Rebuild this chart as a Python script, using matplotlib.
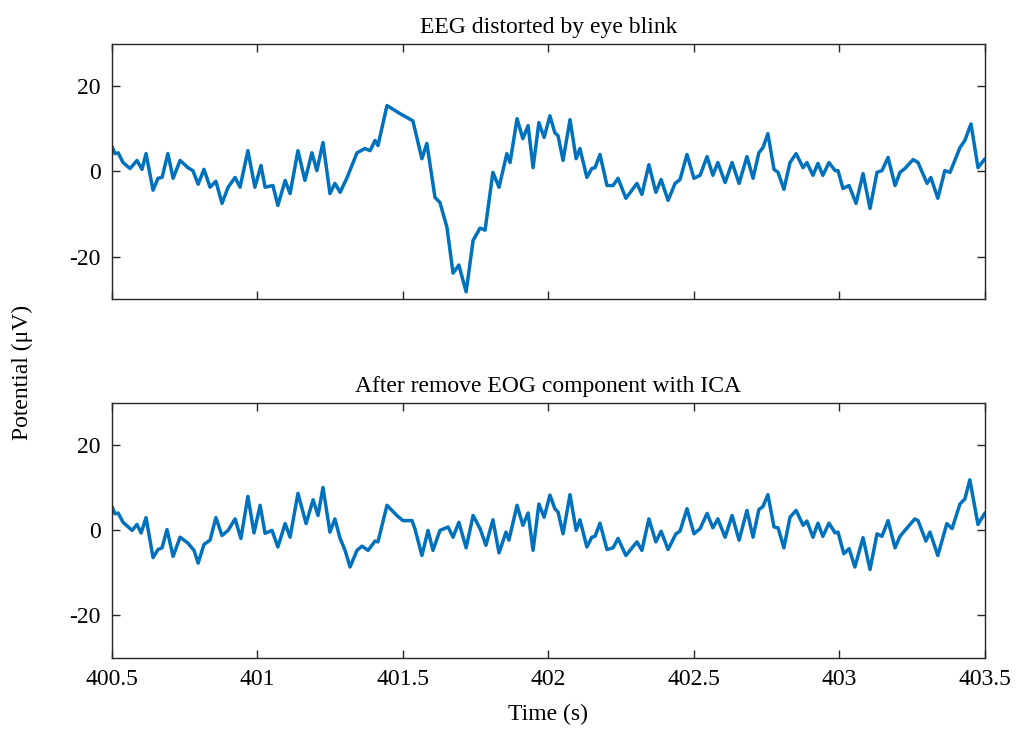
import matplotlib.pyplot as plt

# EEG channel before and after ICA removal of the blink component
t_raw = [400.500, 400.510, 400.521, 400.538, 400.562, 400.586, 400.603, 400.617, 400.641, 400.658,
         400.672, 400.692, 400.710, 400.734, 400.761, 400.778, 400.796, 400.816, 400.837, 400.857,
         400.878, 400.899, 400.923, 400.940, 400.967, 400.991, 401.012, 401.026, 401.053, 401.070,
         401.095, 401.112, 401.139, 401.163, 401.187, 401.204, 401.225, 401.249, 401.266, 401.284,
         401.308, 401.342, 401.369, 401.387, 401.404, 401.414, 401.445, 401.490, 401.534, 401.565,
         401.582, 401.610, 401.627, 401.651, 401.672, 401.692, 401.717, 401.741, 401.765, 401.782,
         401.809, 401.830, 401.857, 401.868, 401.892, 401.912, 401.930, 401.947, 401.967, 401.985,
         402.005, 402.022, 402.033, 402.050, 402.074, 402.095, 402.108, 402.132, 402.149, 402.160,
         402.177, 402.201, 402.222, 402.239, 402.266, 402.304, 402.321, 402.345, 402.369, 402.387,
         402.411, 402.435, 402.452, 402.476, 402.500, 402.521, 402.545, 402.565, 402.582, 402.607,
         402.631, 402.655, 402.682, 402.703, 402.723, 402.737, 402.754, 402.775, 402.789, 402.809,
         402.830, 402.851, 402.875, 402.888, 402.909, 402.926, 402.943, 402.964, 402.985, 402.995,
         403.012, 403.033, 403.057, 403.081, 403.105, 403.129, 403.146, 403.167, 403.191, 403.208,
         403.225, 403.253, 403.270, 403.301, 403.314, 403.338, 403.362, 403.380, 403.414, 403.431,
         403.452, 403.476, 403.500]
eeg_raw = [5.9, 4.2, 4.4, 2.1, 0.7, 2.6, 0.5, 4.2, -4.4, -1.6,
           -1.4, 4.2, -1.6, 2.6, 0.9, 0.2, -3.0, 0.5, -3.7, -2.3,
           -7.5, -3.7, -1.4, -3.7, 4.9, -3.7, 1.4, -3.7, -3.3, -8.0,
           -2.1, -5.2, 4.9, -2.1, 4.4, 0.2, 6.8, -5.2, -2.8, -4.9,
           -1.4, 4.4, 5.4, 4.9, 7.3, 6.1, 15.5, 13.6, 11.9, 3.0,
           6.6, -6.1, -7.3, -13.1, -23.9, -22.0, -28.3, -16.2, -13.3, -13.8,
           -0.2, -3.7, 4.2, 2.1, 12.4, 7.7, 10.8, 0.9, 11.5, 8.0,
           13.1, 9.1, 8.4, 2.6, 12.2, 3.0, 5.4, -1.4, 0.7, 0.9,
           4.0, -3.3, -3.3, -1.6, -6.3, -2.8, -5.4, 1.6, -4.9, -1.9,
           -6.8, -2.8, -1.9, 4.0, -1.6, -0.9, 3.5, -0.9, 2.1, -2.6,
           2.1, -2.8, 3.5, -1.6, 4.4, 5.6, 8.9, 0.5, -0.2, -4.2,
           2.1, 4.2, 0.9, 2.1, -0.9, 1.9, -0.9, 2.1, 0.2, 0.2,
           -4.0, -3.3, -7.5, -0.5, -8.7, -0.2, 0.2, 3.3, -3.3, -0.2,
           0.7, 2.8, 2.1, -2.8, -1.4, -6.3, 0.2, -0.2, 5.6, 7.3,
           11.2, 0.9, 3.0]

t_clean = [400.500, 400.510, 400.521, 400.538, 400.569, 400.586, 400.600, 400.617, 400.641, 400.658,
           400.672, 400.689, 400.710, 400.734, 400.761, 400.782, 400.796, 400.816, 400.837, 400.857,
           400.878, 400.899, 400.923, 400.943, 400.967, 400.988, 401.009, 401.026, 401.050, 401.070,
           401.095, 401.112, 401.139, 401.167, 401.191, 401.208, 401.225, 401.249, 401.266, 401.284,
           401.301, 401.318, 401.342, 401.359, 401.380, 401.404, 401.414, 401.445, 401.479, 401.500,
           401.531, 401.541, 401.565, 401.586, 401.603, 401.627, 401.655, 401.672, 401.692, 401.717,
           401.741, 401.765, 401.785, 401.809, 401.830, 401.854, 401.864, 401.892, 401.912, 401.930,
           401.947, 401.967, 401.985, 402.005, 402.022, 402.033, 402.050, 402.074, 402.095, 402.108,
           402.132, 402.149, 402.160, 402.177, 402.201, 402.222, 402.239, 402.266, 402.304, 402.321,
           402.345, 402.369, 402.387, 402.411, 402.438, 402.452, 402.476, 402.500, 402.521, 402.545,
           402.565, 402.582, 402.607, 402.631, 402.655, 402.682, 402.703, 402.723, 402.737, 402.754,
           402.775, 402.789, 402.809, 402.830, 402.851, 402.875, 402.888, 402.909, 402.926, 402.943,
           402.964, 402.985, 402.995, 403.015, 403.033, 403.053, 403.081, 403.105, 403.129, 403.146,
           403.167, 403.191, 403.208, 403.225, 403.259, 403.270, 403.297, 403.311, 403.338, 403.369,
           403.387, 403.414, 403.431, 403.448, 403.476, 403.500]
eeg_clean = [5.6, 3.9, 4.1, 1.9, 0.0, 1.4, -0.6, 3.0, -6.4, -4.5,
             -4.1, 0.2, -6.1, -1.6, -3.0, -4.7, -7.7, -3.3, -2.3, 3.0,
             -1.2, 0.0, 2.7, -1.9, 8.0, -0.6, 5.9, -0.7, 0.0, -3.9,
             1.6, -1.6, 8.7, 1.6, 7.2, 3.5, 10.1, -0.4, 2.7, -1.9,
             -4.7, -8.6, -4.7, -3.7, -4.7, -2.5, -2.7, 5.9, 3.5, 2.3,
             2.3, 0.4, -5.9, 0.0, -4.7, 0.0, 0.8, -1.6, 1.9, -4.1,
             3.5, 0.4, -3.5, 2.5, -5.3, -0.4, -2.3, 5.9, 1.2, 4.1,
             -4.7, 6.2, 3.1, 8.3, 5.1, 4.3, -0.8, 8.4, 0.0, 2.5,
             -3.9, -1.6, -1.4, 1.7, -4.5, -4.1, -1.9, -5.9, -2.7, -4.7,
             2.7, -2.7, -0.2, -4.5, -0.8, -0.2, 5.1, -0.8, 0.4, 4.0,
             0.6, 2.7, -1.6, 3.5, -2.3, 4.7, -1.6, 4.9, 5.6, 8.4,
             0.8, 0.6, -4.1, 3.1, 4.7, 1.2, 2.2, -1.6, 1.7, -1.4,
             1.7, -0.6, -0.4, -5.5, -4.3, -8.6, -1.7, -9.2, -0.8, -1.4,
             2.3, -4.1, -1.4, 0.0, 2.7, 2.3, -2.5, -0.4, -5.9, 1.6,
             0.4, 6.2, 7.4, 11.9, 1.4, 4.1]

x_ticks = [400.5, 401, 401.5, 402, 402.5, 403, 403.5]
x_ticklabels = ['400.5', '401', '401.5', '402', '402.5', '403', '403.5']
y_ticks = [-20, 0, 20]
titles = ['EEG distorted by eye blink', 'After remove EOG component with ICA']

plt.rcParams['font.family'] = ['Liberation Serif', 'DejaVu Serif']
plt.rcParams['font.size'] = 17
plt.rcParams['axes.unicode_minus'] = False

fig = plt.figure(figsize=(10.21, 7.44), dpi=100)
ax1 = fig.add_axes([0.1097, 0.598, 0.855, 0.343])
ax2 = fig.add_axes([0.1097, 0.1156, 0.855, 0.343])

for ax, t, v, title in [(ax1, t_raw, eeg_raw, titles[0]), (ax2, t_clean, eeg_clean, titles[1])]:
    ax.plot(t, v, color='#0072BD', lw=2.5, solid_joinstyle='round', solid_capstyle='round')
    ax.set_xlim(400.5, 403.5)
    ax.set_ylim(-30, 30)
    ax.set_xticks(x_ticks)
    ax.set_yticks(y_ticks)
    ax.set_title(title, fontsize=17, pad=8)
    ax.tick_params(direction='in', length=6, width=1, top=True, right=True,
                   color='#262626', labelcolor='black', labelsize=17, pad=8)
    for s in ax.spines.values():
        s.set_color('#262626')
        s.set_linewidth(1)

ax1.set_xticklabels([])
ax2.set_xticklabels(x_ticklabels)
ax2.set_xlabel('Time (s)', fontsize=17, labelpad=10)
fig.text(0.022, 0.5, 'Potential (μV)', rotation=90, va='center', ha='center', fontsize=17)

fig.savefig('out.png', dpi=100)
